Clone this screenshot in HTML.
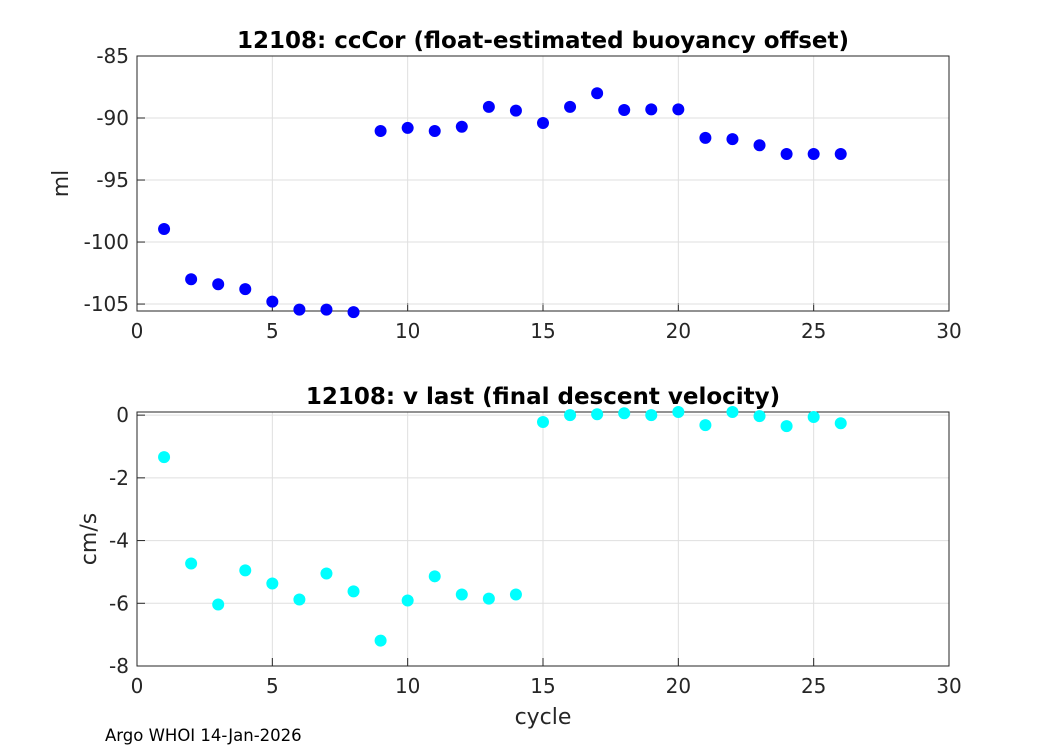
<!DOCTYPE html>
<html><head><meta charset="utf-8"><style>
body{margin:0;background:#fff;}
svg text{font-family:"DejaVu Sans","Liberation Sans",sans-serif;fill:#262626;}
</style></head><body>
<svg id="c" width="1050" height="750" xmlns="http://www.w3.org/2000/svg"></svg>
<script>
const cycles=[1,2,3,4,5,6,7,8,9,10,11,12,13,14,15,16,17,18,19,20,21,22,23,24,25,26];
const ccCor=[-98.95,-103.0,-103.4,-103.8,-104.8,-105.45,-105.45,-105.65,-91.05,-90.8,-91.05,-90.7,-89.1,-89.4,-90.4,-89.1,-88.0,-89.35,-89.3,-89.3,-91.6,-91.7,-92.2,-92.9,-92.9,-92.9];
const vLast=[-1.34,-4.73,-6.04,-4.95,-5.37,-5.88,-5.05,-5.62,-7.19,-5.91,-5.14,-5.72,-5.85,-5.72,-0.22,0,0.03,0.06,0,0.1,-0.32,0.1,-0.03,-0.35,-0.06,-0.26];
const xTicks=[0,5,10,15,20,25,30];
const yTicksTop=[-85,-90,-95,-100,-105];
const yTicksBot=[0,-2,-4,-6,-8];
const NS="http://www.w3.org/2000/svg";
const svg=document.getElementById('c');
function mk(tag,attrs,parent){const e=document.createElementNS(NS,tag);for(const k in attrs)e.setAttribute(k,attrs[k]);(parent||svg).appendChild(e);return e;}
function panel(cfg){
  const g=mk('g',{});
  
  
  const x=v=>137+(v-0)/(30-0)*(949-137);
  const y=v=>cfg.top+(cfg.ymax-v)/(cfg.ymax-cfg.ymin)*(cfg.bot-cfg.top);
  mk('rect',{x:137,y:cfg.top,width:812,height:cfg.bot-cfg.top,fill:'#fff'},g);
  xTicks.forEach(t=>{
    mk('line',{x1:x(t),x2:x(t),y1:cfg.top,y2:cfg.bot,stroke:'#dfdfdf','stroke-width':1},g);
    mk('line',{x1:x(t),x2:x(t),y1:cfg.bot,y2:cfg.bot-8,stroke:'#262626'},g);
    const tx=mk('text',{x:x(t),y:cfg.bot+27,'text-anchor':'middle','font-size':20},g);tx.textContent=t;
    
    
  });
  cfg.yt.forEach(t=>{
    mk('line',{x1:137,x2:949,y1:y(t),y2:y(t),stroke:'#dfdfdf','stroke-width':1},g);
    mk('line',{x1:137,x2:145,y1:y(t),y2:y(t),stroke:'#262626'},g);
    const tx=mk('text',{x:129,y:y(t)+7,'text-anchor':'end','font-size':20},g);tx.textContent=t;
    
    
  });
  mk('rect',{x:137,y:cfg.top,width:812,height:cfg.bot-cfg.top,fill:'none',stroke:'#262626','stroke-width':1},g);
  const tt=mk('text',{x:543,y:cfg.top-8,'text-anchor':'middle','font-size':23,'font-weight':'bold',style:'fill:#000'},g);tt.textContent=cfg.title;
  
  
  const yl=mk('text',{x:0,y:0,'text-anchor':'middle','font-size':22,transform:`translate(${cfg.ylx},${(cfg.top+cfg.bot)/2}) rotate(-90)`},g);yl.textContent=cfg.ylabel;
  
  
  cycles.forEach((c,i)=>{
    const p=mk('circle',{cx:x(c),cy:y(cfg.data[i]),r:6,fill:cfg.color},g);
    
    
  });
}
panel({name:'cccor-panel',top:56,bot:311,ymax:-85,ymin:-105.56,yt:yTicksTop,title:'12108: ccCor (float-estimated buoyancy offset)',ylabel:'ml',ylx:68,data:ccCor,color:'#0000ff'});
panel({name:'vlast-panel',top:412,bot:666,ymax:0.1,ymin:-8,yt:yTicksBot,title:'12108: v last (final descent velocity)',ylabel:'cm/s',ylx:96,data:vLast,color:'#00ffff'});
const xl=mk('text',{x:543,y:724,'text-anchor':'middle','font-size':22});xl.textContent='cycle';


const ft=mk('text',{x:105,y:741,'font-size':16.5,style:'fill:#000'});ft.textContent='Argo WHOI 14-Jan-2026';


</script>
</body></html>
